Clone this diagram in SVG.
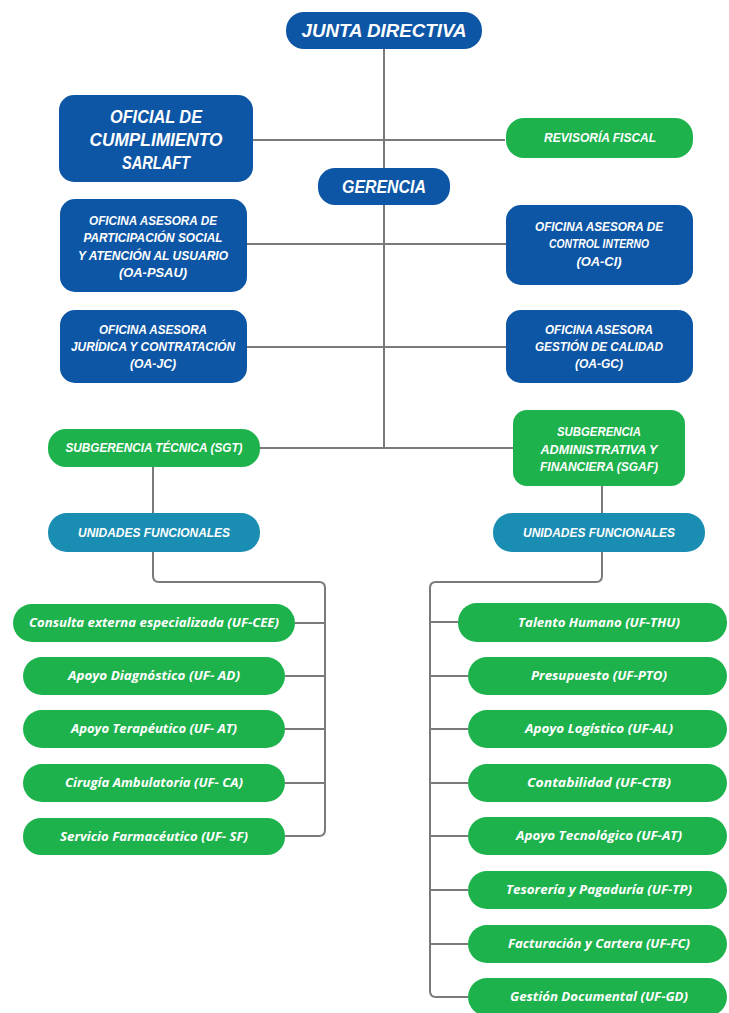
<svg xmlns="http://www.w3.org/2000/svg" width="729" height="1013" viewBox="0 0 729 1013">
<style>
.blue{fill:#0d56a6}
.green{fill:#1eb24d}
.teal{fill:#1a8db3}
.h{font-family:"Liberation Sans Narrow","Liberation Sans",sans-serif;font-weight:bold;font-style:italic;fill:#fff;text-anchor:middle}
.l{font-family:"Open Sans","Noto Sans",sans-serif;font-weight:bold;font-style:italic;fill:#fff;text-anchor:middle;font-size:12px}
.c{fill:none;stroke:#7a7a7a;stroke-width:2}
</style>
<rect width="729" height="1013" fill="#fff"/>
<g id="connectors">
<path class="c" d="M384 49V448"/>
<path class="c" d="M253 140H505"/>
<path class="c" d="M247 244H506"/>
<path class="c" d="M247 347H506"/>
<path class="c" d="M260 448H513"/>
<path class="c" d="M153 467V513"/>
<path class="c" d="M602 486V513"/>
<path class="c" d="M153 552V576Q153 582 159 582H319Q325 582 325 588V830Q325 836 319 836H285"/>
<path class="c" d="M295 623H325M285 676H325M285 729H325M285 783H325"/>
<path class="c" d="M602 552V576Q602 582 596 582H436Q430 582 430 588V991Q430 997 436 997H468"/>
<path class="c" d="M430 622H458M430 676H468M430 729H468M430 783H468M430 836H468M430 890H468M430 944H468"/>
</g>
<g id="junta"><rect class="blue" x="286" y="12" width="196" height="37" rx="18"/><text class="h" x="384" y="37" font-size="18" textLength="165" lengthAdjust="spacingAndGlyphs">JUNTA DIRECTIVA</text></g>
<g id="oficial"><rect class="blue" x="59" y="95" width="194" height="87" rx="15"/>
<text class="h" font-size="18"><tspan x="156" y="123" textLength="92" lengthAdjust="spacingAndGlyphs">OFICIAL DE</tspan><tspan x="156" y="146" textLength="133" lengthAdjust="spacingAndGlyphs">CUMPLIMIENTO</tspan><tspan x="156" y="169" textLength="68" lengthAdjust="spacingAndGlyphs">SARLAFT</tspan></text></g>
<g id="revisoria"><rect class="green" x="506" y="118" width="187" height="40" rx="18"/><text class="h" x="600" y="142" font-size="12" textLength="112" lengthAdjust="spacingAndGlyphs">REVISORÍA FISCAL</text></g>
<g id="gerencia"><rect class="blue" x="318" y="168" width="132" height="37" rx="17"/><text class="h" x="384" y="193" font-size="18" textLength="84" lengthAdjust="spacingAndGlyphs">GERENCIA</text></g>
<g id="oa-psau"><rect class="blue" x="60" y="199" width="187" height="93" rx="15"/>
<text class="h" font-size="12"><tspan x="153" y="225" textLength="128" lengthAdjust="spacingAndGlyphs">OFICINA ASESORA DE</tspan><tspan x="153" y="242" textLength="139" lengthAdjust="spacingAndGlyphs">PARTICIPACIÓN SOCIAL</tspan><tspan x="153" y="260" textLength="150" lengthAdjust="spacingAndGlyphs">Y ATENCIÓN AL USUARIO</tspan><tspan x="153" y="277" textLength="68" lengthAdjust="spacingAndGlyphs">(OA-PSAU)</tspan></text></g>
<g id="oa-ci"><rect class="blue" x="506" y="205" width="187" height="80" rx="15"/>
<text class="h" font-size="12"><tspan x="599" y="231" textLength="128" lengthAdjust="spacingAndGlyphs">OFICINA ASESORA DE</tspan><tspan x="599" y="248" textLength="100" lengthAdjust="spacingAndGlyphs">CONTROL INTERNO</tspan><tspan x="599" y="266" textLength="45" lengthAdjust="spacingAndGlyphs">(OA-CI)</tspan></text></g>
<g id="oa-jc"><rect class="blue" x="60" y="310" width="187" height="73" rx="15"/>
<text class="h" font-size="12"><tspan x="153" y="334" textLength="108" lengthAdjust="spacingAndGlyphs">OFICINA ASESORA</tspan><tspan x="153" y="351" textLength="164" lengthAdjust="spacingAndGlyphs">JURÍDICA Y CONTRATACIÓN</tspan><tspan x="153" y="368" textLength="46" lengthAdjust="spacingAndGlyphs">(OA-JC)</tspan></text></g>
<g id="oa-gc"><rect class="blue" x="506" y="310" width="187" height="73" rx="15"/>
<text class="h" font-size="12"><tspan x="599" y="334" textLength="108" lengthAdjust="spacingAndGlyphs">OFICINA ASESORA</tspan><tspan x="599" y="351" textLength="128" lengthAdjust="spacingAndGlyphs">GESTIÓN DE CALIDAD</tspan><tspan x="599" y="368" textLength="48" lengthAdjust="spacingAndGlyphs">(OA-GC)</tspan></text></g>
<g id="sgt"><rect class="green" x="48" y="429" width="212" height="38" rx="18"/><text class="h" x="154" y="452" font-size="12" textLength="177" lengthAdjust="spacingAndGlyphs">SUBGERENCIA TÉCNICA (SGT)</text></g>
<g id="sgaf"><rect class="green" x="513" y="410" width="172" height="76" rx="14"/>
<text class="h" font-size="12"><tspan x="599" y="436" textLength="84" lengthAdjust="spacingAndGlyphs">SUBGERENCIA</tspan><tspan x="599" y="454" textLength="117" lengthAdjust="spacingAndGlyphs">ADMINISTRATIVA Y</tspan><tspan x="599" y="471" textLength="118" lengthAdjust="spacingAndGlyphs">FINANCIERA (SGAF)</tspan></text></g>
<g id="uf-left"><rect class="teal" x="48" y="513" width="212" height="39" rx="19"/><text class="h" x="154" y="537" font-size="12" textLength="152" lengthAdjust="spacingAndGlyphs">UNIDADES FUNCIONALES</text></g>
<g id="uf-right"><rect class="teal" x="493" y="513" width="212" height="39" rx="19"/><text class="h" x="599" y="537" font-size="12" textLength="152" lengthAdjust="spacingAndGlyphs">UNIDADES FUNCIONALES</text></g>
<g id="uf-cee"><rect class="green" x="13" y="604" width="282" height="38" rx="19"/><text class="l" x="154" y="627" textLength="250" lengthAdjust="spacingAndGlyphs">Consulta externa especializada (UF-CEE)</text></g>
<g id="uf-ad"><rect class="green" x="23" y="657" width="262" height="38" rx="19"/><text class="l" x="154" y="680" textLength="172" lengthAdjust="spacingAndGlyphs">Apoyo Diagnóstico (UF- AD)</text></g>
<g id="uf-at-left"><rect class="green" x="23" y="710" width="262" height="38" rx="19"/><text class="l" x="154" y="733" textLength="166" lengthAdjust="spacingAndGlyphs">Apoyo Terapéutico (UF- AT)</text></g>
<g id="uf-ca"><rect class="green" x="23" y="764" width="262" height="38" rx="19"/><text class="l" x="154" y="787" textLength="178" lengthAdjust="spacingAndGlyphs">Cirugía Ambulatoria (UF- CA)</text></g>
<g id="uf-sf"><rect class="green" x="23" y="818" width="262" height="37" rx="18"/><text class="l" x="154" y="841" textLength="188" lengthAdjust="spacingAndGlyphs">Servicio Farmacéutico (UF- SF)</text></g>
<g id="uf-thu"><rect class="green" x="458" y="603" width="269" height="39" rx="19"/><text class="l" x="599" y="627" textLength="162" lengthAdjust="spacingAndGlyphs">Talento Humano (UF-THU)</text></g>
<g id="uf-pto"><rect class="green" x="468" y="657" width="259" height="38" rx="19"/><text class="l" x="599" y="680" textLength="136" lengthAdjust="spacingAndGlyphs">Presupuesto (UF-PTO)</text></g>
<g id="uf-al"><rect class="green" x="468" y="710" width="259" height="38" rx="19"/><text class="l" x="599" y="733" textLength="148" lengthAdjust="spacingAndGlyphs">Apoyo Logístico (UF-AL)</text></g>
<g id="uf-ctb"><rect class="green" x="468" y="764" width="259" height="38" rx="19"/><text class="l" x="599" y="787" textLength="144" lengthAdjust="spacingAndGlyphs">Contabilidad (UF-CTB)</text></g>
<g id="uf-at-right"><rect class="green" x="468" y="817" width="259" height="38" rx="19"/><text class="l" x="599" y="840" textLength="166" lengthAdjust="spacingAndGlyphs">Apoyo Tecnológico (UF-AT)</text></g>
<g id="uf-tp"><rect class="green" x="468" y="871" width="259" height="38" rx="19"/><text class="l" x="599" y="894" textLength="186" lengthAdjust="spacingAndGlyphs">Tesorería y Pagaduría (UF-TP)</text></g>
<g id="uf-fc"><rect class="green" x="468" y="925" width="259" height="38" rx="19"/><text class="l" x="599" y="948" textLength="182" lengthAdjust="spacingAndGlyphs">Facturación y Cartera (UF-FC)</text></g>
<g id="uf-gd"><rect class="green" x="468" y="978" width="259" height="38" rx="19"/><text class="l" x="599" y="1001" textLength="178" lengthAdjust="spacingAndGlyphs">Gestión Documental (UF-GD)</text></g>
</svg>
